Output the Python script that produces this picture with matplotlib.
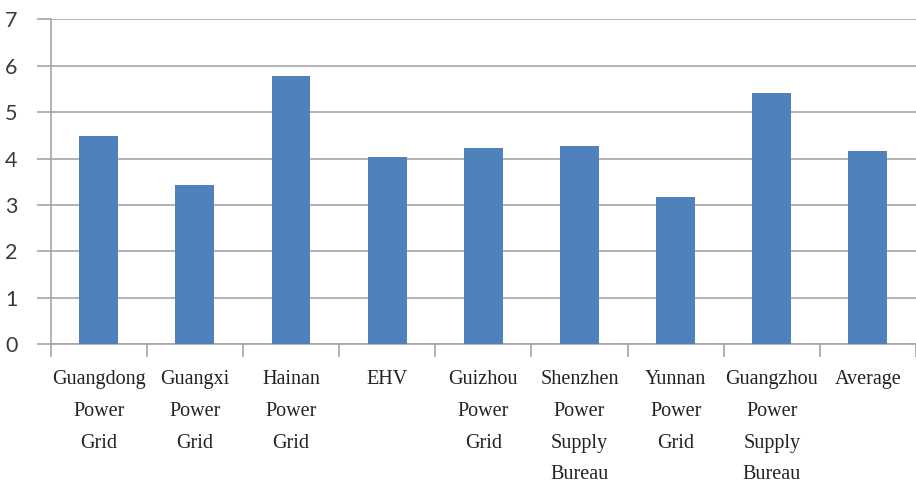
import matplotlib.pyplot as plt
import numpy as np

categories = [
    "Guangdong\nPower\nGrid",
    "Guangxi\nPower\nGrid",
    "Hainan\nPower\nGrid",
    "EHV",
    "Guizhou\nPower\nGrid",
    "Shenzhen\nPower\nSupply\nBureau",
    "Yunnan\nPower\nGrid",
    "Guangzhou\nPower\nSupply\nBureau",
    "Average",
]
values = [4.49, 3.43, 5.77, 4.03, 4.22, 4.27, 3.17, 5.42, 4.16]
y_ticks = [0, 1, 2, 3, 4, 5, 6, 7]

fig = plt.figure(figsize=(9.16, 4.86), dpi=100)
ax = fig.add_axes([0.0553, 0.292, 0.9447, 0.668])

x = np.arange(len(categories))
ax.bar(x, values, width=0.405, color="#4F81BD", zorder=3)

ax.set_xlim(-0.5, len(categories) - 0.5)
ax.set_ylim(0, 7)
ax.set_yticks(y_ticks)
ax.yaxis.grid(True, color="#A6A6A6", linewidth=1.2, zorder=0)

for s in ["top", "right"]:
    ax.spines[s].set_visible(False)
for s in ["left", "bottom"]:
    ax.spines[s].set_color("#A6A6A6")
    ax.spines[s].set_linewidth(1.2)

# labels at bar centres, tick marks between categories
ax.set_xticks(x)
ax.set_xticklabels(categories, family="Liberation Serif", fontsize=14.5,
                   linespacing=1.9, va="top", color="#222222")
ax.tick_params(axis="x", which="major", length=0, pad=19)
ax.set_xticks(np.arange(-0.5, len(categories)), minor=True)
ax.tick_params(axis="x", which="minor", length=9, color="#A6A6A6", width=1.2)

ax.tick_params(axis="y", length=10, color="#A6A6A6", width=1.2, pad=14,
               labelsize=15.5, labelcolor="#3A3A3A")
for lbl in ax.get_yticklabels():
    lbl.set_family("Lato")

fig.savefig("out.png", dpi=100)
